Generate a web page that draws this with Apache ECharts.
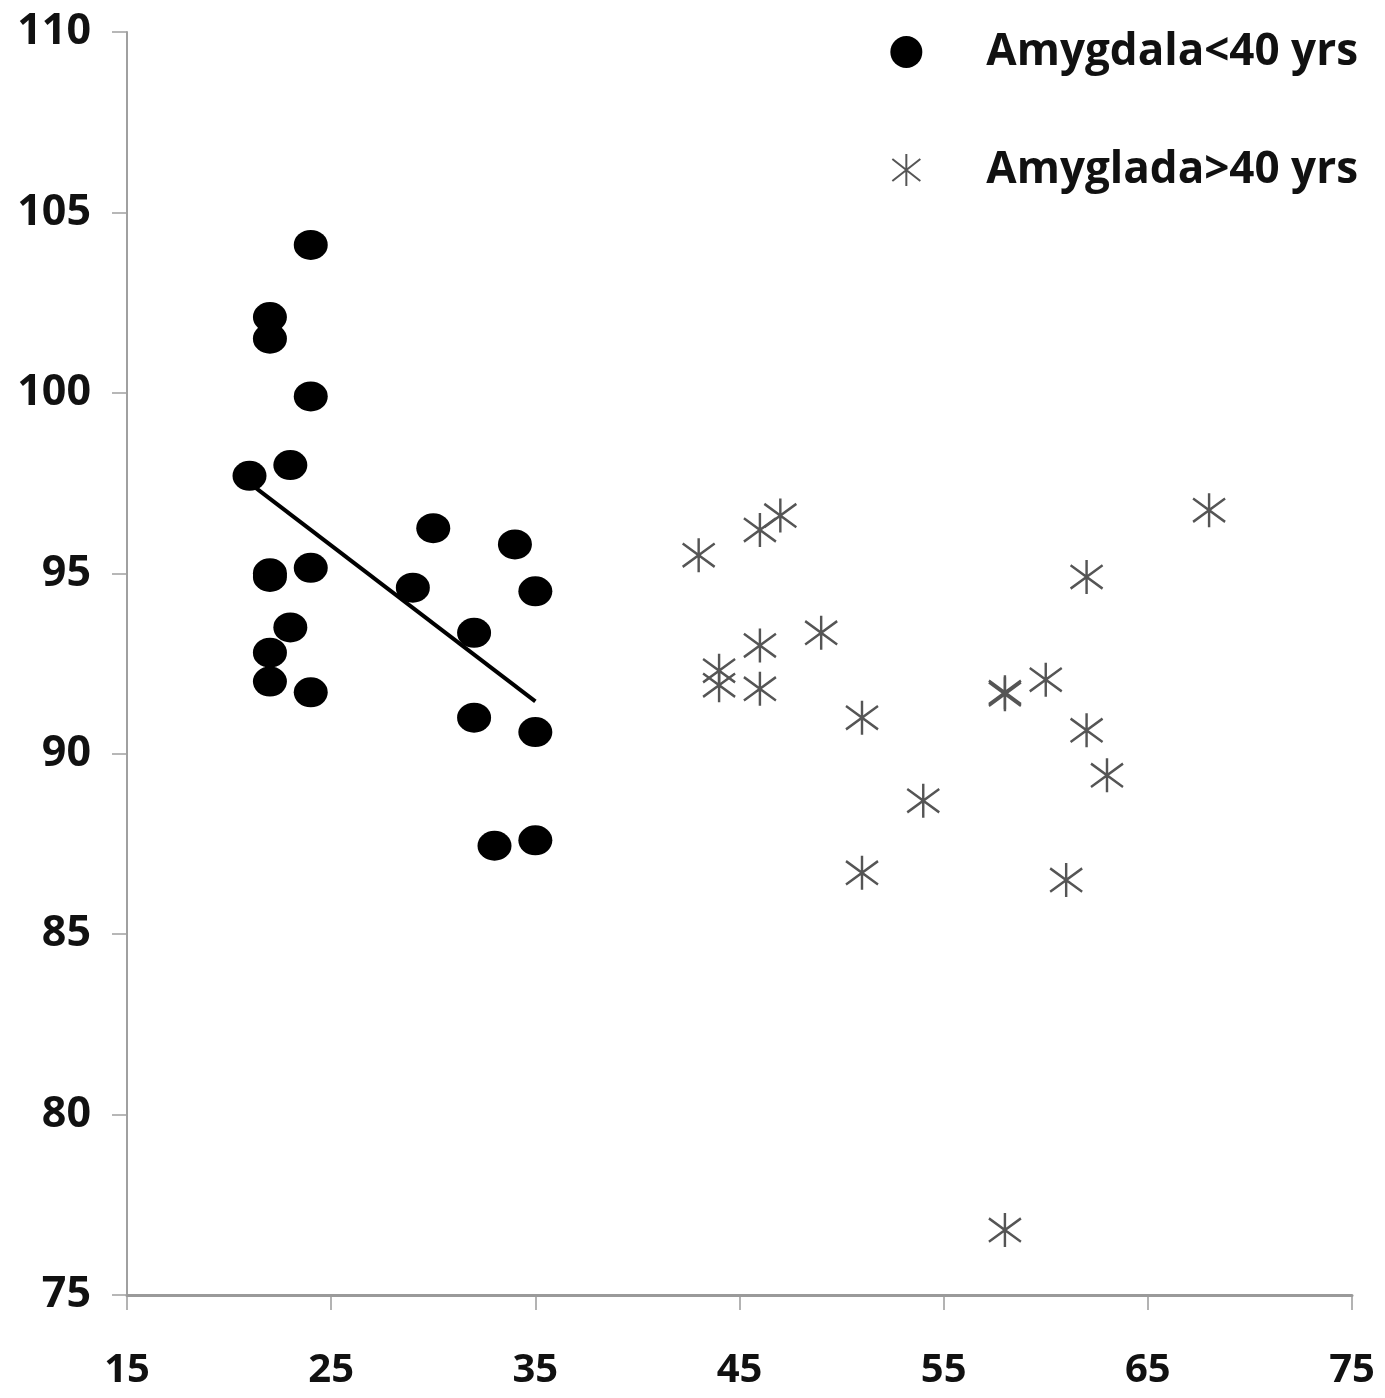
<!DOCTYPE html>
<html>
<head>
<meta charset="utf-8">
<script src="https://cdn.jsdelivr.net/npm/echarts@6/dist/echarts.min.js"></script>
<style>
  html, body { margin: 0; padding: 0; background: #fff; }
  #chart { width: 1385px; height: 1398px; }
</style>
</head>
<body>
<div id="chart"></div>
<script>
// Age (years) vs. amygdala measure, split by age group
const youngAge = [21, 22, 22, 24, 24, 23, 22, 22, 24, 23, 22, 22, 24, 29, 30, 32, 32, 34, 35, 35, 33, 35];
const youngVal = [97.7, 102.1, 101.5, 104.1, 99.9, 98.0, 95.0, 94.9, 95.15, 93.5, 92.8, 92.0, 91.7, 94.6, 96.25, 93.35, 91.0, 95.8, 94.5, 90.6, 87.45, 87.6];

const olderAge = [43, 46, 47, 44, 44, 46, 46, 49, 51, 51, 54, 58, 58, 58, 60, 61, 62, 62, 63, 68];
const olderVal = [95.5, 96.2, 96.6, 92.3, 91.9, 93.0, 91.8, 93.35, 91.0, 86.7, 88.7, 91.7, 91.65, 76.8, 92.05, 86.5, 94.9, 90.65, 89.4, 96.75];

// Linear trend for the under-40 group (end points)
const trendAge = [21, 35];
const trendVal = [97.5, 91.45];

const xTicks = [15, 25, 35, 45, 55, 65, 75];
const yTicks = [75, 80, 85, 90, 95, 100, 105, 110];

const seriesNames = ['Amygdala<40 yrs', 'Amyglada>40 yrs'];

const asterisk = 'path://M15,0L15,32M1,5L29,27M1,27L29,5';
const font = '"Open Sans", "Liberation Sans", sans-serif';

const pairs = (xs, ys) => xs.map((x, i) => [x, ys[i]]);

const chart = echarts.init(document.getElementById('chart'), null, { renderer: 'canvas' });

chart.setOption({
  backgroundColor: '#ffffff',
  animation: false,
  grid: { left: 127, right: 33, top: 32, bottom: 103, containLabel: false },
  legend: {
    orient: 'vertical',
    right: 22,
    top: 25,
    itemWidth: 34,
    itemHeight: 32,
    itemGap: 74,
    data: [
      { name: seriesNames[0], icon: 'circle' },
      { name: seriesNames[1], icon: asterisk }
    ],
    textStyle: {
      fontFamily: font,
      fontWeight: 'bold',
      fontSize: 44,
      color: '#111',
      padding: [0, 0, 0, 58]
    }
  },
  xAxis: {
    type: 'value',
    min: xTicks[0],
    max: xTicks[xTicks.length - 1],
    interval: 10,
    splitLine: { show: false },
    axisLine: { show: true, onZero: false, lineStyle: { color: '#9a9a9a', width: 3 } },
    axisTick: { show: true, length: 15, lineStyle: { color: '#9a9a9a', width: 1.5 } },
    axisLabel: {
      margin: 56,
      fontFamily: font,
      fontWeight: 'bold',
      fontSize: 40,
      color: '#111',
      showMinLabel: true,
      showMaxLabel: true
    }
  },
  yAxis: {
    type: 'value',
    min: yTicks[0],
    max: yTicks[yTicks.length - 1],
    interval: 5,
    splitLine: { show: false },
    axisLine: { show: true, onZero: false, lineStyle: { color: '#a0a0a0', width: 2 } },
    axisTick: { show: true, length: 15, lineStyle: { color: '#a0a0a0', width: 1.5 } },
    axisLabel: {
      margin: 36,
      fontFamily: font,
      fontWeight: 'bold',
      fontSize: 43,
      color: '#111'
    }
  },
  series: [
    {
      name: seriesNames[0],
      type: 'scatter',
      symbol: 'circle',
      symbolSize: [34, 30],
      itemStyle: { color: '#000', opacity: 1 },
      data: pairs(youngAge, youngVal),
      z: 3
    },
    {
      name: seriesNames[1],
      type: 'scatter',
      symbol: asterisk,
      symbolSize: [32, 34],
      itemStyle: { color: 'rgba(0,0,0,0)', borderColor: '#555', borderWidth: 2.5, opacity: 1 },
      data: pairs(olderAge, olderVal),
      z: 3
    },
    {
      name: 'trend',
      type: 'line',
      showSymbol: false,
      symbol: 'none',
      silent: true,
      lineStyle: { color: '#000', width: 4 },
      data: pairs(trendAge, trendVal),
      z: 4
    }
  ]
});
</script>
</body>
</html>
